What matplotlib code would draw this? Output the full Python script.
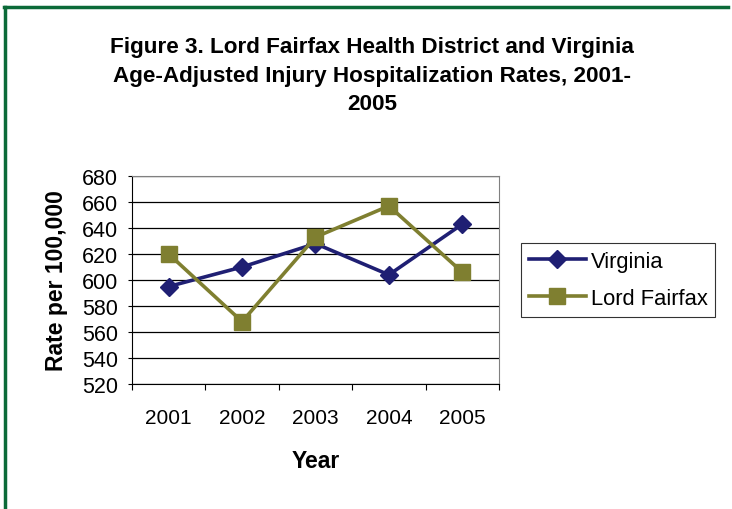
import matplotlib.pyplot as plt
from matplotlib.lines import Line2D

years = ['2001', '2002', '2003', '2004', '2005']
virginia = [595, 610, 628, 604, 643]
lord_fairfax = [620, 568, 633, 657, 606]

plt.rcParams['font.family'] = ['Liberation Sans', 'DejaVu Sans']

fig = plt.figure(figsize=(7.32, 5.10), dpi=100)
ax = fig.add_axes([0.1803, 0.2451, 0.5014, 0.4078])

x = range(len(years))
ax.plot(x, virginia, color='#1f1f73', lw=2.6, marker='D', ms=9, label='Virginia')
ax.plot(x, lord_fairfax, color='#7f7f30', lw=2.6, marker='s', ms=11, label='Lord Fairfax')

ax.set_xlim(-0.5, len(years) - 0.5)
ax.set_ylim(520, 680)
ax.set_yticks(range(520, 681, 20))
ax.set_xticks([i - 0.5 for i in range(len(years) + 1)], minor=False)
ax.set_xticklabels([])
ax.set_xticks(list(x), minor=True)
ax.set_xticklabels(years, minor=True)
ax.tick_params(axis='x', which='minor', length=0, pad=17, labelsize=15)
ax.tick_params(axis='x', which='major', length=4, direction='out')
ax.tick_params(axis='y', length=3, labelsize=15.5, pad=7)
ax.grid(axis='y', color='black', lw=0.9)
ax.set_axisbelow(True)
for side in ['top', 'right']:
    ax.spines[side].set_color('#808080')
for side in ['left', 'bottom']:
    ax.spines[side].set_color('black')

ax.set_ylabel('Rate per 100,000', fontsize=16.5, fontweight='bold', labelpad=10)
ax.set_xlabel('Year', fontsize=16.5, fontweight='bold', labelpad=16)

fig.text(0.508, 0.927, 'Figure 3. Lord Fairfax Health District and Virginia\n'
         'Age-Adjusted Injury Hospitalization Rates, 2001-\n2005',
         ha='center', va='top', fontsize=16.2, fontweight='bold', linespacing=1.46)

leg = ax.legend(loc='center left', bbox_to_anchor=(1.06, 0.5), fontsize=15.8,
                frameon=True, fancybox=False, edgecolor='black',
                handlelength=2.6, borderpad=0.35, labelspacing=0.72,
                handletextpad=0.22, borderaxespad=0)
leg.get_frame().set_linewidth(0.8)

# green frame at top and left
fig.add_artist(Line2D([0.006, 0.995], [0.984, 0.984], color='#0b6a38', lw=2.5))
fig.add_artist(Line2D([0.007, 0.007], [0.0, 0.985], color='#0b6a38', lw=2.5))

fig.savefig('out.png', dpi=100)
